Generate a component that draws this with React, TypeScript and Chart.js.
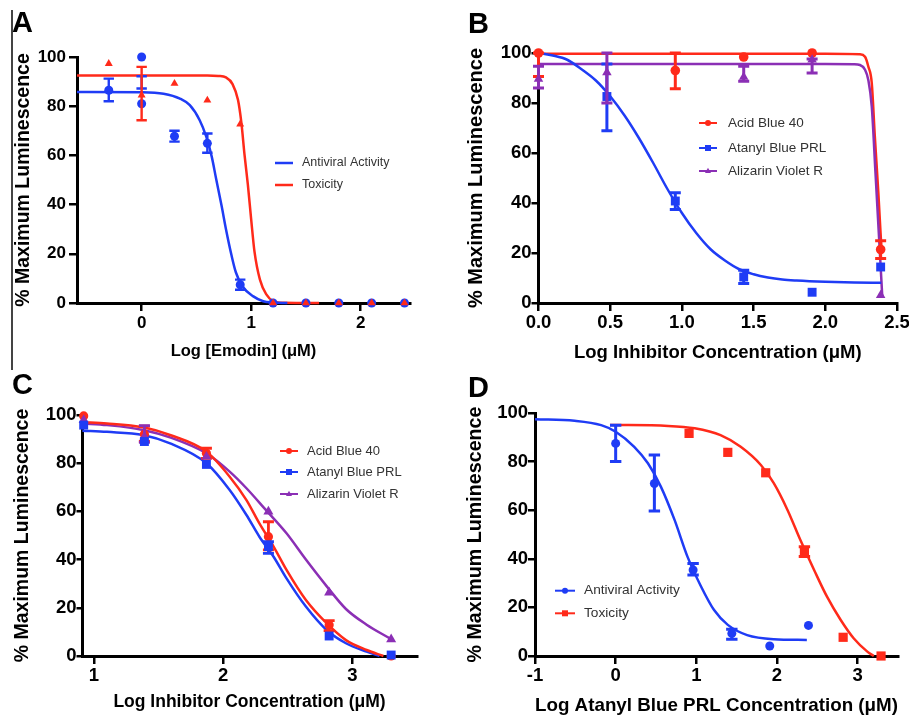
import React, { useEffect, useRef } from 'react';
import { Chart, registerables } from 'chart.js';

Chart.register(...registerables);

const FONT = '"Liberation Sans", Arial, Helvetica, sans-serif';
const BLUE = '#1f3cf5';
const RED = '#ff2a1a';
const PURPLE = '#8b2fb5';

// ---------- shared ----------
const yTickValues = [0, 20, 40, 60, 80, 100];
const yTitleText = '% Maximum Luminescence';

// ---------- Panel A ----------
const aXTicks = [0, 1, 2];
const aDoseX = [-0.3, 0, 0.3, 0.6, 0.9, 1.2, 1.5, 1.8, 2.1, 2.4];
const aAntiviralY = [86.5, 100, 67.8, 64.9, 7.4, 0, 0, 0, 0, 0];
const aAntiviralLo = [82, 87.2, 65.6, 61.1, 5.4, null, null, null, null, null];
const aAntiviralHi = [91.2, 92.2, 70, 68.9, 9.5, null, null, null, null, null];
const aAntiviralExtraX = [0];
const aAntiviralExtraY = [81];
const aToxicityY = [97.3, 84.5, 89.2, 82.4, 72.7, 0, 0, 0, 0, 0];
const aToxicityLo = [null, 74.3, null, null, null, null, null, null, null, null];
const aToxicityHi = [null, 96, null, null, null, null, null, null, null, null];
const aAntiviralFitX = [-0.59, 0, 0.2, 0.35, 0.44, 0.53, 0.59, 0.64, 0.68, 0.73, 0.77, 0.82, 0.86, 0.92, 1.02, 1.11, 1.2, 1.33];
const aAntiviralFitY = [85.8, 85.7, 85.1, 83.1, 80.4, 74.3, 67.6, 59.5, 50.5, 39.5, 30, 19.5, 12.5, 6.8, 2.7, 0.7, 0.2, 0];
const aToxicityFitX = [-0.59, 0.6, 0.7, 0.77, 0.83, 0.88, 0.91, 0.94, 0.97, 1.0, 1.03, 1.08, 1.14, 1.2, 1.3, 1.62];
const aToxicityFitY = [92.5, 92.5, 92.3, 91.7, 89, 82.5, 73.5, 60, 48, 34, 21, 9.5, 3.4, 0.8, 0.1, 0];

// ---------- Panel B ----------
const bXTicks = [0, 0.5, 1.0, 1.5, 2.0, 2.5];
const bDoseX = [0, 0.477, 0.954, 1.431, 1.908, 2.386];
const bAcidBlueY = [100, null, 93, 98.4, 100, 21.4];
const bAcidBlueLo = [90.6, null, 85.7, null, null, 17.8];
const bAcidBlueHi = [100, null, 100, null, null, 24.9];
const bAtanylY = [null, 82.6, 40.8, 10.4, 4.3, 14.4];
const bAtanylLo = [null, 68.9, 37.4, 7.8, null, null];
const bAtanylHi = [null, 95.6, 44.1, 13.1, null, null];
const bAlizarinY = [89.6, 92.2, null, 90.4, 97.3, 3.1];
const bAlizarinLo = [86, 80, null, 88.7, 92, null];
const bAlizarinHi = [94.7, 100, null, 94.7, 97.6, null];
const bAcidBlueFitX = [0, 1, 2, 2.24, 2.277, 2.3, 2.324, 2.345, 2.37, 2.393];
const bAcidBlueFitY = [99.7, 99.7, 99.7, 99.5, 98.5, 94.6, 88, 67, 44, 20];
const bAtanylFitX = [0, 0.1, 0.2, 0.3, 0.4, 0.5, 0.6, 0.7, 0.8, 0.9, 1.0, 1.1, 1.2, 1.3, 1.4, 1.5, 1.6, 1.7, 1.8, 2.0, 2.2, 2.39];
const bAtanylFitY = [100, 99, 97.3, 93.5, 89, 82.7, 75, 66, 56, 45.5, 36, 28, 21.5, 17, 13.5, 11.5, 10.2, 9.4, 9, 8.5, 8.2, 8.1];
const bAlizarinFitX = [0, 1, 2, 2.2, 2.242, 2.277, 2.3, 2.324, 2.35, 2.375, 2.3975];
const bAlizarinFitY = [95.6, 95.6, 95.6, 95.5, 95.2, 93.3, 89.2, 78.6, 52, 26, 2.4];

// ---------- Panel C ----------
const cXTicks = [1, 2, 3];
const cDoseX = [0.92, 1.39, 1.87, 2.35, 2.82, 3.3];
const cAcidBlueY = [99.6, 92, 84.1, 49.5, 12.9, 0];
const cAcidBlueLo = [null, 89, 82, 44, 10.5, null];
const cAcidBlueHi = [null, 95.4, 86.2, 55.7, 14.7, null];
const cAtanylY = [95.8, 89, 79.5, 45.4, 8.3, 0.4];
const cAtanylLo = [null, null, null, 42.6, null, null];
const cAtanylHi = [null, null, null, 47.4, null, null];
const cAlizarinY = [97.9, 91, 82.7, 59.9, 26.3, 6.9];
const cAlizarinLo = [null, 88.7, null, null, null, null];
const cAlizarinHi = [null, 95.6, null, null, null, null];
const cAcidBlueFitX = [0.91, 1.1, 1.38, 1.6, 1.87, 2.05, 2.18, 2.28, 2.39, 2.49, 2.64, 2.8, 2.95, 3.11, 3.24];
const cAcidBlueFitY = [97, 96.5, 94.9, 91.5, 84.8, 74.4, 64.7, 55, 45.4, 35.7, 23.2, 13.6, 6.6, 2.5, 0];
const cAtanylFitX = [0.91, 1.1, 1.38, 1.6, 1.87, 2.05, 2.18, 2.28, 2.39, 2.49, 2.64, 2.8, 2.95, 3.11, 3.21];
const cAtanylFitY = [93.5, 93, 91.7, 88, 80, 68.9, 58.5, 49.5, 41.2, 32.2, 20.5, 10.8, 5.3, 1.8, 0];
const cAlizarinFitX = [0.91, 1.1, 1.38, 1.6, 1.87, 2.05, 2.18, 2.33, 2.49, 2.64, 2.8, 2.95, 3.11, 3.29];
const cAlizarinFitY = [96.5, 95.8, 93.8, 90.5, 84.1, 76.5, 69.6, 60.6, 50.9, 40, 29, 19.5, 13, 7.3];

// ---------- Panel D ----------
const dXTicks = [-1, 0, 1, 2, 3];
const dAntiviralX = [0, 0.48, 0.96, 1.44, 1.91, 2.39];
const dAntiviralY = [87.5, 71, 35.4, 9.3, 4.1, 12.6];
const dAntiviralLo = [80, 59.7, 33.3, 6.9, null, null];
const dAntiviralHi = [95, 82.7, 38.1, 11, null, null];
const dToxicityX = [0.91, 1.39, 1.86, 2.34, 2.82, 3.29];
const dToxicityY = [91.6, 83.8, 75.4, 42.9, 7.7, 0];
const dToxicityLo = [null, null, null, 40.9, null, null];
const dToxicityHi = [null, null, null, 45, null, null];
const dAntiviralFitX = [-1, -0.51, -0.18, 0, 0.23, 0.4, 0.56, 0.73, 0.89, 1.06, 1.22, 1.39, 1.63, 1.96, 2.37];
const dAntiviralFitY = [97.4, 96.8, 95, 92.3, 86.1, 79.3, 69.7, 56, 40.9, 28.5, 18.9, 12.8, 8.6, 6.9, 6.6];
const dToxicityFitX = [-0.07, 0.65, 0.98, 1.3, 1.55, 1.8, 1.96, 2.13, 2.29, 2.46, 2.62, 2.79, 2.95, 3.12, 3.2];
const dToxicityFitY = [95.1, 94.7, 93.7, 90.9, 86.1, 78.6, 71.1, 60.1, 47.7, 35.4, 24.4, 14.8, 7.3, 1.8, 0];

type Style = 'circle' | 'rect' | 'triangle';
type Series = {
  color: string; style: Style; radius: number;
  xs: number[]; ys: (number | null)[];
  lo?: (number | null)[]; hi?: (number | null)[];
};
type Curve = { color: string; xs: number[]; ys: number[] };
type LegendItem = { label: string; color: string; style: Style | null };
type PanelSpec = {
  left: number; top: number; width: number; height: number;
  area: { left: number; top: number; right: number; bottom: number };
  xMin: number; xMax: number; xTicks: number[]; xFmt: (v: number) => string;
  tickSize: number; xTickLen: number; xTickPad: number; yTickLen: number; yTickPad: number;
  yTitleSize: number; yTitleX: number;
  xTitle: string; xTitleSize: number; xTitleY: number;
  errWidth: number; errCap: number;
  series: Series[]; curves: Curve[];
  legend: { x1: number; x2: number; textX: number; ys: number[]; size: number; markerR: number; lineW: number; items: LegendItem[] };
};

function drawMarker(ctx: CanvasRenderingContext2D, style: Style, x: number, y: number, r: number, color: string) {
  ctx.fillStyle = color;
  ctx.beginPath();
  if (style === 'circle') {
    ctx.arc(x, y, r, 0, Math.PI * 2);
  } else if (style === 'rect') {
    ctx.rect(x - r, y - r, 2 * r, 2 * r);
  } else {
    ctx.moveTo(x, y - r * 1.1);
    ctx.lineTo(x + r, y + r * 0.7);
    ctx.lineTo(x - r, y + r * 0.7);
    ctx.closePath();
  }
  ctx.fill();
}

const errorBarPlugin = {
  id: 'errorBars',
  afterDatasetDraw(chart: any, args: any) {
    const ds = chart.data.datasets[args.index];
    if (!ds.errLo) return;
    const xs = chart.scales.x;
    const ys = chart.scales.y;
    const ctx = chart.ctx as CanvasRenderingContext2D;
    ctx.save();
    ctx.strokeStyle = ds.borderColor;
    ctx.lineWidth = ds.errWidth;
    ds.errXs.forEach((xv: number, i: number) => {
      const lo = ds.errLo[i];
      const hi = ds.errHi[i];
      if (lo == null || hi == null) return;
      const px = xs.getPixelForValue(xv);
      const pl = ys.getPixelForValue(lo);
      const ph = ys.getPixelForValue(hi);
      ctx.beginPath();
      ctx.moveTo(px, pl);
      ctx.lineTo(px, ph);
      ctx.moveTo(px - ds.errCap, pl);
      ctx.lineTo(px + ds.errCap, pl);
      ctx.moveTo(px - ds.errCap, ph);
      ctx.lineTo(px + ds.errCap, ph);
      ctx.stroke();
    });
    ctx.restore();
  },
};

function legendPlugin(lg: PanelSpec['legend']) {
  return {
    id: 'panelLegend',
    afterDraw(chart: any) {
      const ctx = chart.ctx as CanvasRenderingContext2D;
      ctx.save();
      lg.items.forEach((it, i) => {
        const y = lg.ys[i];
        ctx.strokeStyle = it.color;
        ctx.lineWidth = lg.lineW;
        ctx.beginPath();
        ctx.moveTo(lg.x1, y);
        ctx.lineTo(lg.x2, y);
        ctx.stroke();
        if (it.style) drawMarker(ctx, it.style, (lg.x1 + lg.x2) / 2, y, lg.markerR, it.color);
        ctx.fillStyle = '#333';
        ctx.font = `${lg.size}px ${FONT}`;
        ctx.textBaseline = 'middle';
        ctx.textAlign = 'left';
        ctx.fillText(it.label, lg.textX, y);
      });
      ctx.restore();
    },
  };
}

function buildConfig(s: PanelSpec): any {
  const pointSets = s.series.map((se) => ({
    type: 'scatter',
    data: se.xs.map((x, i) => ({ x, y: se.ys[i] })),
    pointStyle: se.style,
    pointRadius: se.radius,
    pointBackgroundColor: se.color,
    pointBorderColor: se.color,
    pointBorderWidth: 0,
    borderColor: se.color,
    backgroundColor: se.color,
    showLine: false,
    clip: false,
    errXs: se.xs,
    errLo: se.lo,
    errHi: se.hi,
    errWidth: s.errWidth,
    errCap: s.errCap,
  }));
  const curveSets = s.curves.map((c) => ({
    type: 'line',
    data: c.xs.map((x, i) => ({ x, y: c.ys[i] })),
    borderColor: c.color,
    borderWidth: 2.5,
    pointRadius: 0,
    cubicInterpolationMode: 'monotone',
    fill: false,
    clip: false,
  }));
  const tickFont = { family: FONT, size: s.tickSize, weight: 'bold' as const };
  const yLH = s.yTitleSize * 1.2;
  const xLH = s.xTitleSize * 1.2;
  return {
    type: 'scatter',
    data: { datasets: [...pointSets, ...curveSets] },
    options: {
      animation: false,
      responsive: false,
      events: [],
      layout: { padding: { left: 0, top: s.area.top, right: s.width - s.area.right, bottom: 0 } },
      plugins: { legend: { display: false }, tooltip: { enabled: false } },
      scales: {
        x: {
          type: 'linear',
          min: s.xMin,
          max: s.xMax,
          afterBuildTicks: (sc: any) => { sc.ticks = s.xTicks.map((v) => ({ value: v })); },
          afterFit: (sc: any) => { sc.height = s.height - s.area.bottom; sc.paddingLeft = 0; sc.paddingRight = 0; },
          ticks: { font: tickFont, color: '#000', padding: s.xTickPad, autoSkip: false, maxRotation: 0, callback: (v: any) => s.xFmt(Number(v)) },
          grid: { display: true, drawOnChartArea: false, drawTicks: true, tickLength: s.xTickLen, tickColor: '#000', tickWidth: 2.5, color: '#000', lineWidth: 2.5 },
          border: { display: true, color: '#000', width: 3 },
          title: { display: true, text: s.xTitle, color: '#000', font: { family: FONT, size: s.xTitleSize, weight: 'bold' }, padding: { top: 0, bottom: s.height - s.xTitleY - xLH / 2 } },
        },
        y: {
          type: 'linear',
          min: 0,
          max: 100,
          afterBuildTicks: (sc: any) => { sc.ticks = yTickValues.map((v) => ({ value: v })); },
          afterFit: (sc: any) => { sc.width = s.area.left; sc.paddingTop = 0; sc.paddingBottom = 0; },
          ticks: { font: tickFont, color: '#000', padding: s.yTickPad, autoSkip: false },
          grid: { display: true, drawOnChartArea: false, drawTicks: true, tickLength: s.yTickLen, tickColor: '#000', tickWidth: 2.5, color: '#000', lineWidth: 2.5 },
          border: { display: true, color: '#000', width: 3 },
          title: { display: true, text: yTitleText, color: '#000', font: { family: FONT, size: s.yTitleSize, weight: 'bold' }, padding: { top: s.yTitleX - yLH / 2, bottom: 0 } },
        },
      },
    },
    plugins: [errorBarPlugin, legendPlugin(s.legend)],
  };
}

const intFmt = (v: number) => String(v);
const oneDec = (v: number) => v.toFixed(1);

const panelA: PanelSpec = {
  left: 0, top: 0, width: 454, height: 366,
  area: { left: 77, top: 57, right: 410, bottom: 303 },
  xMin: -0.59, xMax: 2.45, xTicks: aXTicks, xFmt: intFmt,
  tickSize: 17, xTickLen: 8, xTickPad: 2.5, yTickLen: 8, yTickPad: 3,
  yTitleSize: 19.5, yTitleX: 24,
  xTitle: 'Log [Emodin] (\u03BCM)', xTitleSize: 16.5, xTitleY: 351,
  errWidth: 2.4, errCap: 5.2,
  series: [
    { color: RED, style: 'triangle', radius: 4.6, xs: aDoseX, ys: aToxicityY, lo: aToxicityLo, hi: aToxicityHi },
    { color: BLUE, style: 'circle', radius: 4.5, xs: aDoseX, ys: aAntiviralY, lo: aAntiviralLo, hi: aAntiviralHi },
    { color: BLUE, style: 'circle', radius: 4.5, xs: aAntiviralExtraX, ys: aAntiviralExtraY },
  ],
  curves: [
    { color: BLUE, xs: aAntiviralFitX, ys: aAntiviralFitY },
    { color: RED, xs: aToxicityFitX, ys: aToxicityFitY },
  ],
  legend: {
    x1: 275, x2: 293, textX: 302, ys: [163, 185], size: 12.5, markerR: 0, lineW: 2.5,
    items: [
      { label: 'Antiviral Activity', color: BLUE, style: null },
      { label: 'Toxicity', color: RED, style: null },
    ],
  },
};

const panelB: PanelSpec = {
  left: 454, top: 0, width: 455, height: 366,
  area: { left: 84.5, top: 53, right: 443, bottom: 303 },
  xMin: 0, xMax: 2.5, xTicks: bXTicks, xFmt: oneDec,
  tickSize: 18.5, xTickLen: 8, xTickPad: 1.2, yTickLen: 7, yTickPad: 0,
  yTitleSize: 20, yTitleX: 22.7,
  xTitle: 'Log Inhibitor Concentration (\u03BCM)', xTitleSize: 18.5, xTitleY: 353,
  errWidth: 3, errCap: 5.5,
  series: [
    { color: PURPLE, style: 'triangle', radius: 5.5, xs: bDoseX, ys: bAlizarinY, lo: bAlizarinLo, hi: bAlizarinHi },
    { color: BLUE, style: 'rect', radius: 6.3, xs: bDoseX, ys: bAtanylY, lo: bAtanylLo, hi: bAtanylHi },
    { color: RED, style: 'circle', radius: 4.8, xs: bDoseX, ys: bAcidBlueY, lo: bAcidBlueLo, hi: bAcidBlueHi },
  ],
  curves: [
    { color: BLUE, xs: bAtanylFitX, ys: bAtanylFitY },
    { color: PURPLE, xs: bAlizarinFitX, ys: bAlizarinFitY },
    { color: RED, xs: bAcidBlueFitX, ys: bAcidBlueFitY },
  ],
  legend: {
    x1: 245, x2: 263, textX: 274, ys: [123, 148, 171], size: 13.5, markerR: 3, lineW: 2,
    items: [
      { label: 'Acid Blue 40', color: RED, style: 'circle' },
      { label: 'Atanyl Blue PRL', color: BLUE, style: 'rect' },
      { label: 'Alizarin Violet R', color: PURPLE, style: 'triangle' },
    ],
  },
};

const panelC: PanelSpec = {
  left: 0, top: 362, width: 454, height: 356,
  area: { left: 82, top: 53, right: 417, bottom: 294 },
  xMin: 0.907, xMax: 3.5, xTicks: cXTicks, xFmt: intFmt,
  tickSize: 18.5, xTickLen: 8, xTickPad: 0.9, yTickLen: 5.5, yTickPad: 0,
  yTitleSize: 19.5, yTitleX: 22.5,
  xTitle: 'Log Inhibitor Concentration (\u03BCM)', xTitleSize: 17.5, xTitleY: 340,
  errWidth: 2.8, errCap: 5.5,
  series: [
    { color: BLUE, style: 'rect', radius: 6.3, xs: cDoseX, ys: cAtanylY, lo: cAtanylLo, hi: cAtanylHi },
    { color: PURPLE, style: 'triangle', radius: 5.8, xs: cDoseX, ys: cAlizarinY, lo: cAlizarinLo, hi: cAlizarinHi },
    { color: RED, style: 'circle', radius: 4.6, xs: cDoseX, ys: cAcidBlueY, lo: cAcidBlueLo, hi: cAcidBlueHi },
  ],
  curves: [
    { color: RED, xs: cAcidBlueFitX, ys: cAcidBlueFitY },
    { color: BLUE, xs: cAtanylFitX, ys: cAtanylFitY },
    { color: PURPLE, xs: cAlizarinFitX, ys: cAlizarinFitY },
  ],
  legend: {
    x1: 280, x2: 298, textX: 307, ys: [89, 110, 132], size: 13, markerR: 3, lineW: 2,
    items: [
      { label: 'Acid Blue 40', color: RED, style: 'circle' },
      { label: 'Atanyl Blue PRL', color: BLUE, style: 'rect' },
      { label: 'Alizarin Violet R', color: PURPLE, style: 'triangle' },
    ],
  },
};

const panelD: PanelSpec = {
  left: 454, top: 362, width: 455, height: 356,
  area: { left: 81, top: 51, right: 444, bottom: 294 },
  xMin: -1, xMax: 3.5, xTicks: dXTicks, xFmt: intFmt,
  tickSize: 18.5, xTickLen: 8, xTickPad: 0.6, yTickLen: 7, yTickPad: 0,
  yTitleSize: 19.7, yTitleX: 22,
  xTitle: 'Log Atanyl Blue PRL Concentration (\u03BCM)', xTitleSize: 19, xTitleY: 343.5,
  errWidth: 3, errCap: 5.7,
  series: [
    { color: RED, style: 'rect', radius: 6.5, xs: dToxicityX, ys: dToxicityY, lo: dToxicityLo, hi: dToxicityHi },
    { color: BLUE, style: 'circle', radius: 4.5, xs: dAntiviralX, ys: dAntiviralY, lo: dAntiviralLo, hi: dAntiviralHi },
  ],
  curves: [
    { color: BLUE, xs: dAntiviralFitX, ys: dAntiviralFitY },
    { color: RED, xs: dToxicityFitX, ys: dToxicityFitY },
  ],
  legend: {
    x1: 101, x2: 121, textX: 130, ys: [228.7, 251.3], size: 13.7, markerR: 3, lineW: 2,
    items: [
      { label: 'Antiviral Activity', color: BLUE, style: 'circle' },
      { label: 'Toxicity', color: RED, style: 'rect' },
    ],
  },
};

function Panel({ spec }: { spec: PanelSpec }) {
  const ref = useRef<HTMLCanvasElement>(null);
  useEffect(() => {
    const chart = new Chart(ref.current as HTMLCanvasElement, buildConfig(spec));
    return () => chart.destroy();
  }, [spec]);
  return (
    <canvas
      ref={ref}
      width={spec.width}
      height={spec.height}
      style={{ position: 'absolute', left: spec.left, top: spec.top, width: spec.width, height: spec.height }}
    />
  );
}

const letterStyle = (left: number, top: number): React.CSSProperties => ({
  position: 'absolute', left, top, fontFamily: FONT, fontWeight: 'bold', fontSize: 29, lineHeight: '29px', color: '#000',
});

export default function App() {
  return (
    <div style={{ position: 'absolute', left: 0, top: 0, width: 909, height: 718, background: '#fff', overflow: 'hidden' }}>
      <div style={{ position: 'absolute', left: 11, top: 10, width: 1.5, height: 360, background: '#444' }} />
      <Panel spec={panelA} />
      <Panel spec={panelB} />
      <Panel spec={panelC} />
      <Panel spec={panelD} />
      <div style={letterStyle(12, 8.3)}>A</div>
      <div style={letterStyle(468, 9.3)}>B</div>
      <div style={letterStyle(12, 369.5)}>C</div>
      <div style={letterStyle(468, 373.3)}>D</div>
    </div>
  );
}
